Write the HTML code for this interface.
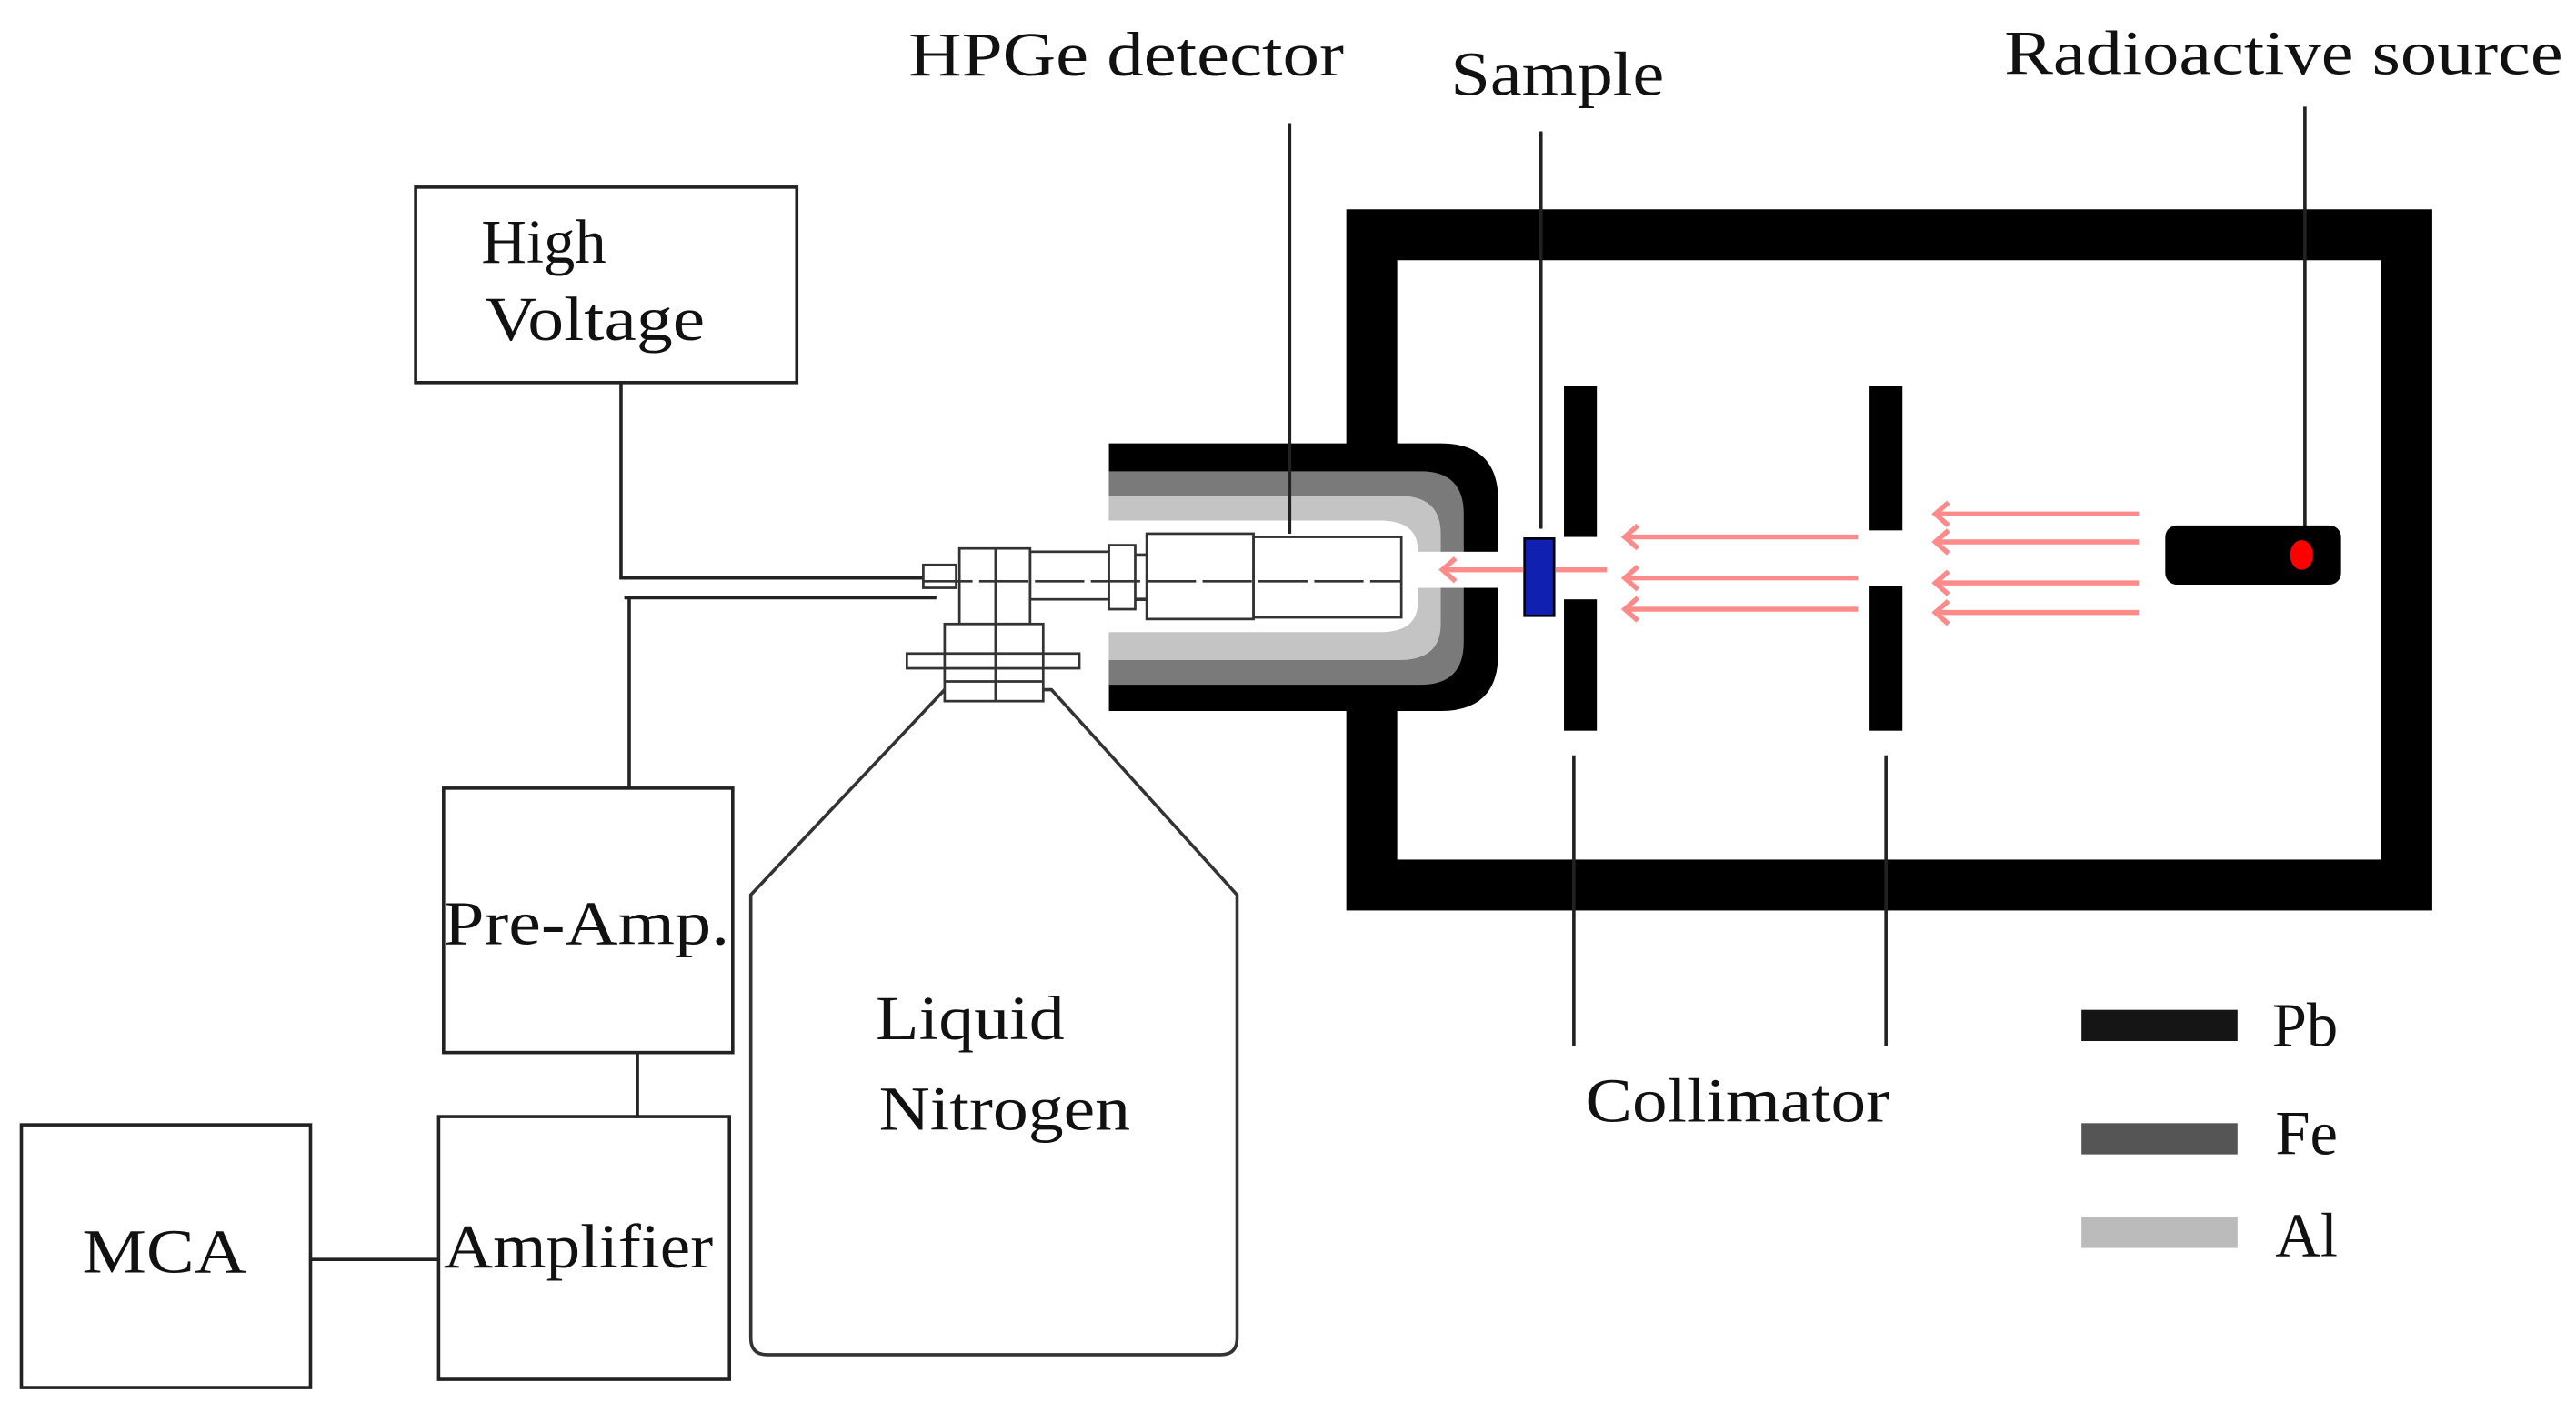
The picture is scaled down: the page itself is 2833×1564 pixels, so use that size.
<!DOCTYPE html>
<html><head><meta charset="utf-8"><style>
html,body{margin:0;padding:0;background:#fff;}
svg{display:block;}
text{font-family:"Liberation Serif",serif;fill:#111;}
</style></head><body>
<svg width="2833" height="1564" viewBox="0 0 1568 866" preserveAspectRatio="none" xmlns="http://www.w3.org/2000/svg">
<rect width="1568" height="866" fill="#fff"/>
<!-- big box (drawn first so shield overlays it) -->
<rect x="835" y="143" width="630" height="396" fill="none" stroke="#000" stroke-width="31"/>
<!-- shield -->
<path d="M675,270 L877,270 Q912,270 912,305 L912,398 Q912,433 877,433 L675,433 Z" fill="#000"/>
<path d="M675,287 L865,287 Q891,287 891,313 L891,391 Q891,417 865,417 L675,417 Z" fill="#7a7a7a"/>
<path d="M675,302 L852,302 Q877,302 877,325 L877,380 Q877,402 852,402 L675,402 Z" fill="#c4c4c4"/>
<path d="M675,317 L840,317 Q863,317 863,335 L863,367 Q863,385 840,385 L675,385 Z" fill="#fff"/>
<rect x="855" y="336" width="60" height="22" fill="#fff"/>
<!-- top labels -->
<text x="553" y="46" font-size="38" textLength="265" lengthAdjust="spacingAndGlyphs">HPGe detector</text>
<text x="883" y="58" font-size="38" textLength="130" lengthAdjust="spacingAndGlyphs">Sample</text>
<text x="1220" y="45" font-size="38" textLength="340" lengthAdjust="spacingAndGlyphs">Radioactive source</text>
<g stroke="#222" stroke-width="2" fill="none">
<line x1="785" y1="75" x2="785" y2="325"/>
<line x1="938" y1="80" x2="938" y2="322"/>
<line x1="1403" y1="65" x2="1403" y2="336"/>
<line x1="958" y1="460" x2="958" y2="637"/>
<line x1="1148" y1="460" x2="1148" y2="637"/>
</g>
<!-- boxes -->
<g stroke="#222" stroke-width="2" fill="#fff">
<rect x="253" y="114" width="232" height="119"/>
<rect x="270" y="480" width="176" height="161"/>
<rect x="267" y="680" width="177" height="160"/>
<rect x="13" y="685" width="176" height="160"/>
</g>
<text x="293" y="160" font-size="38">High</text>
<text x="295" y="207" font-size="38" textLength="134" lengthAdjust="spacingAndGlyphs">Voltage</text>
<text x="270" y="575" font-size="38" textLength="174" lengthAdjust="spacingAndGlyphs">Pre-Amp.</text>
<text x="270" y="772" font-size="38" textLength="164" lengthAdjust="spacingAndGlyphs">Amplifier</text>
<text x="50" y="775" font-size="38" textLength="100" lengthAdjust="spacingAndGlyphs">MCA</text>
<g stroke="#222" stroke-width="2" fill="none">
<polyline points="378,233 378,352 570,352"/>
<line x1="380" y1="364" x2="570" y2="364"/>
<line x1="383" y1="364" x2="383" y2="480"/>
<line x1="388" y1="641" x2="388" y2="680"/>
<line x1="189" y1="767" x2="267" y2="767"/>
</g>
<!-- dewar -->
<path d="M575,420 L640,420 L753,545 L753,815 Q753,825 743,825 L467,825 Q457,825 457,815 L457,545 Z" fill="#fff" stroke="#333" stroke-width="2"/>
<text x="533" y="633" font-size="38" textLength="115" lengthAdjust="spacingAndGlyphs">Liquid</text>
<text x="535" y="688" font-size="38" textLength="153" lengthAdjust="spacingAndGlyphs">Nitrogen</text>
<!-- detector internals -->
<g stroke="#333" stroke-width="1.5" fill="#fff">
<rect x="698" y="325" width="65" height="52"/>
<rect x="763" y="327" width="90" height="49" fill="none"/>
<rect x="627" y="336" width="48" height="29"/>
<rect x="675" y="332" width="16" height="39"/>
<rect x="584" y="334" width="43" height="46"/>
<rect x="575" y="380" width="60" height="47"/>
<rect x="552" y="398" width="105" height="9"/>
<rect x="575" y="398" width="60" height="9"/>
<rect x="562" y="344" width="20" height="14"/>
<line x1="606" y1="334" x2="606" y2="427"/>
<line x1="575" y1="415" x2="635" y2="415"/>
<line x1="562" y1="354" x2="853" y2="354" stroke-dasharray="30,4"/>
</g>
<line x1="691" y1="338" x2="698" y2="338" stroke="#333" stroke-width="2"/>
<line x1="691" y1="365" x2="698" y2="365" stroke="#333" stroke-width="2"/>
<!-- sample -->
<rect x="928" y="328" width="18" height="47" fill="#1020b0" stroke="#001" stroke-width="1.5"/>
<!-- collimators -->
<rect x="952" y="235" width="20" height="92" fill="#000"/>
<rect x="952" y="365" width="20" height="80" fill="#000"/>
<rect x="1138" y="235" width="20" height="88" fill="#000"/>
<rect x="1138" y="357" width="20" height="88" fill="#000"/>
<!-- source -->
<rect x="1318" y="320" width="107" height="36" rx="7" fill="#000"/>
<ellipse cx="1401" cy="338" rx="7" ry="9" fill="#f00"/>
<!-- arrows -->
<g stroke="#ff8a8a" stroke-width="3" fill="none">
<line x1="1178" y1="313" x2="1302" y2="313"/><polyline points="1186,306 1178,313 1186,320"/>
<line x1="1178" y1="330" x2="1302" y2="330"/><polyline points="1186,323 1178,330 1186,337"/>
<line x1="1178" y1="355" x2="1302" y2="355"/><polyline points="1186,348 1178,355 1186,362"/>
<line x1="1178" y1="373" x2="1302" y2="373"/><polyline points="1186,366 1178,373 1186,380"/>
<line x1="989" y1="327" x2="1131" y2="327"/><polyline points="997,320 989,327 997,334"/>
<line x1="989" y1="352" x2="1131" y2="352"/><polyline points="997,345 989,352 997,359"/>
<line x1="989" y1="371" x2="1131" y2="371"/><polyline points="997,364 989,371 997,378"/>
<line x1="947" y1="347" x2="978" y2="347"/>
<line x1="878" y1="347" x2="927" y2="347"/><polyline points="886,340 878,347 886,354"/>
</g>
<!-- labels -->
<text x="965" y="683" font-size="38" textLength="185" lengthAdjust="spacingAndGlyphs">Collimator</text>
<rect x="1267" y="615" width="95" height="19" fill="#151515"/>
<rect x="1267" y="684" width="95" height="19" fill="#555"/>
<rect x="1267" y="741" width="95" height="19" fill="#bbb"/>
<text x="1383" y="637" font-size="38">Pb</text>
<text x="1385" y="703" font-size="38">Fe</text>
<text x="1385" y="765" font-size="38">Al</text>
</svg>
</body></html>
